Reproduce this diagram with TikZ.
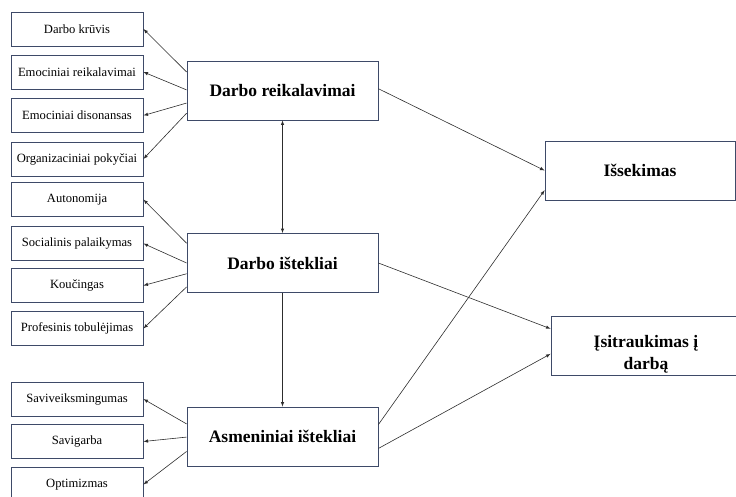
\documentclass[tikz,border=0pt]{standalone}
\usepackage{fontspec}
\setmainfont{Liberation Serif}
\usepackage{xcolor}
\usepackage{tikz}
\usetikzlibrary{positioning, calc, arrows}

\definecolor{boxline}{RGB}{62,74,104}
\definecolor{arrline}{RGB}{45,45,45}

\tikzset{
	smallbox/.style={draw=boxline, line width=0.8pt, minimum width=132pt, minimum height=34pt, inner sep=1pt, font=\fontsize{12.6}{14}\selectfont},
	bigbox/.style={draw=boxline, line width=0.8pt, minimum width=191pt, minimum height=59pt, font=\fontsize{17.5}{22}\selectfont\bfseries},
	arr/.style={draw=arrline, line width=0.6pt, -latex},
}

\begin{document}
\begin{tikzpicture}[x=1pt, y=-1pt]
		
		%//page frame
		\useasboundingbox (0,0) rectangle (736,497);
		
		%//center column
		\node [bigbox] (dr) at (282.5, 90.5) {Darbo reikalavimai};
		\node [bigbox] (di) at (282.5, 263) {Darbo ištekliai};
		\node [bigbox] (ai) at (282.5, 436.5) {Asmeniniai ištekliai};
		
		%//right column
		\node [bigbox, minimum width=190pt] (is) at (640, 170.5) {Išsekimas};
		\node [bigbox, minimum width=190pt, align=center, inner ysep=0pt] (it) at (646, 345.5) {\rule{0pt}{29pt}Įsitraukimas į\\darbą};
		
		%//left boxes
		\foreach \y/\val [count=\i] in {29/Darbo krūvis, 72/Emociniai reikalavimai, 115.5/Emociniai disonansas, 159/Organizaciniai pokyčiai}
		\node [smallbox] (r\i) at (77, \y) {\val};
		
		\foreach \y/\val [count=\i] in {199.5/Autonomija, 243.5/Socialinis palaikymas, 285.5/Koučingas, 328.5/Profesinis tobulėjimas}
		\node [smallbox] (t\i) at (77, \y) {\val};
		
		\foreach \y/\val [count=\i] in {399/Saviveiksmingumas, 441.5/Savigarba, 484.5/Optimizmas}
		\node [smallbox] (a\i) at (77, \y) {\val};
		
		%//arrows to the left
		\foreach \i/\f in {1/0.19, 2/0.49, 3/0.71, 4/0.88}
		\draw [arr] ($(dr.north west)!\f!(dr.south west)$) -- (r\i.east);
		
		\foreach \i/\f in {1/0.17, 2/0.5, 3/0.68, 4/0.9}
		\draw [arr] ($(di.north west)!\f!(di.south west)$) -- (t\i.east);
		
		\foreach \i/\f in {1/0.29, 2/0.51, 3/0.75}
		\draw [arr] ($(ai.north west)!\f!(ai.south west)$) -- (a\i.east);
		
		%//vertical links
		\draw [arr, latex-latex] (dr.south) -- (di.north);
		\draw [arr] (di.south) -- (ai.north);
		
		%//arrows to the right
		\draw [arr] ($(dr.north east)!0.47!(dr.south east)$) -- ($(is.north west)!0.5!(is.south west)$);
		\draw [arr] ($(ai.north east)!0.3!(ai.south east)$) -- ($(is.north west)!0.83!(is.south west)$);
		\draw [arr] ($(di.north east)!0.5!(di.south east)$) -- ($(it.north west)!0.22!(it.south west)$);
		\draw [arr] ($(ai.north east)!0.7!(ai.south east)$) -- ($(it.north west)!0.64!(it.south west)$);
		
\end{tikzpicture}
\end{document}
